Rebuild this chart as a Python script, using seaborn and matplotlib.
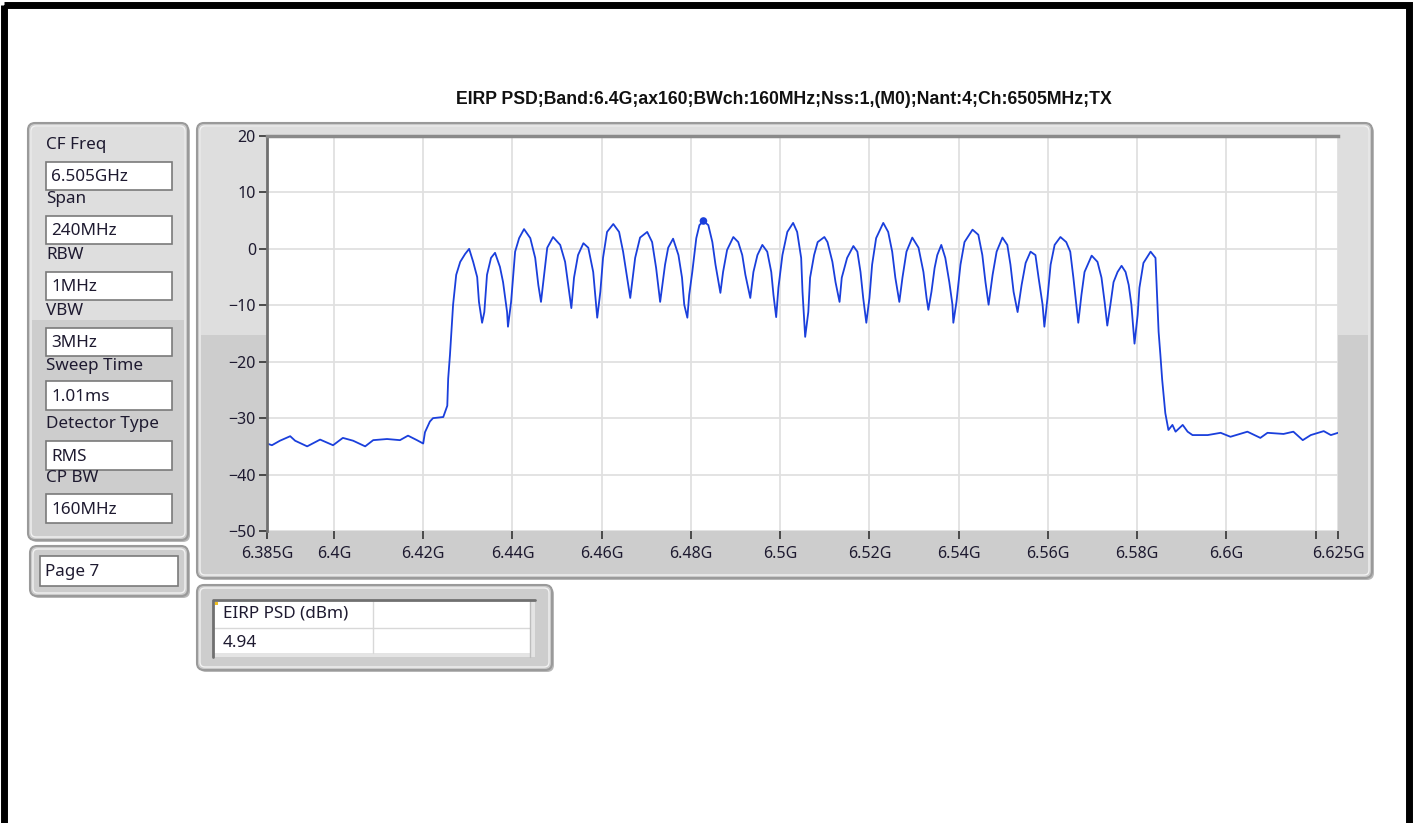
import numpy as np
import pandas as pd
import seaborn as sns
import matplotlib.pyplot as plt
from matplotlib.patches import FancyBboxPatch, Rectangle

W, H = 1415, 823

# ---- trace data, frequency in MHz, level in dBm ----
left_freq = [6385.0, 6386.1, 6387.9, 6390.2, 6391.3, 6394.0, 6396.9, 6399.8, 6402.0,
             6404.3, 6407.0, 6408.8, 6411.9, 6414.8, 6416.6, 6418.6, 6420.0, 6420.4,
             6421.5, 6422.2, 6424.5, 6425.4, 6425.6]
left_level = [-34.5, -34.8, -34.0, -33.2, -34.0, -35.0, -33.8, -34.8, -33.5,
              -34.0, -35.0, -33.9, -33.7, -33.9, -33.1, -33.9, -34.5, -32.5,
              -30.6, -30.0, -29.8, -27.8, -23.0]

band_freq = [6426.0, 6426.7, 6427.4, 6428.3, 6429.4, 6430.3, 6431.2, 6432.1, 6432.5, 6433.2,
             6433.7, 6434.3, 6435.2, 6436.1, 6437.2, 6437.9, 6438.8, 6439.0, 6439.7, 6440.6,
             6441.5, 6442.6, 6444.0, 6445.1, 6445.8, 6446.4, 6447.1, 6447.8, 6449.1, 6450.7,
             6451.8, 6452.5, 6453.2, 6453.8, 6454.7, 6455.9, 6457.0, 6458.1, 6459.0, 6459.7,
             6460.3, 6461.2, 6462.6, 6463.9, 6464.8, 6465.7, 6466.4, 6467.5, 6468.6, 6470.2,
             6471.3, 6472.2, 6473.1, 6474.2, 6474.9, 6476.0, 6477.2, 6478.0, 6478.5, 6479.2,
             6479.6, 6480.3, 6481.2, 6481.9, 6482.8, 6483.9, 6484.8, 6485.5, 6486.6, 6487.2,
             6488.1, 6489.5, 6490.6, 6491.5, 6492.2, 6493.3, 6494.0, 6494.9, 6496.0, 6497.1,
             6498.0, 6498.5, 6499.1, 6499.6, 6500.5, 6501.6, 6502.9, 6503.8, 6504.7, 6505.0,
             6505.6, 6506.3, 6506.7, 6507.6, 6508.4, 6509.9, 6510.6, 6511.7, 6512.4, 6513.3,
             6513.8, 6515.0, 6516.4, 6517.3, 6518.0, 6518.6, 6519.3, 6520.0, 6520.6, 6521.5,
             6523.1, 6524.2, 6525.1, 6525.8, 6526.7, 6527.4, 6528.3, 6529.6, 6531.0, 6532.1,
             6532.8, 6533.2, 6533.9, 6534.6, 6535.2, 6536.1, 6537.0, 6537.9, 6538.6, 6538.8,
             6539.5, 6540.4, 6541.3, 6543.1, 6544.4, 6545.3, 6546.0, 6546.7, 6547.6, 6548.5,
             6549.8, 6550.9, 6551.6, 6552.3, 6553.2, 6554.1, 6555.0, 6556.1, 6557.2, 6557.9,
             6558.8, 6559.2, 6559.9, 6560.6, 6561.5, 6562.8, 6564.1, 6565.0, 6565.7, 6566.8,
             6567.5, 6568.2, 6569.8, 6571.1, 6572.0, 6572.7, 6573.3, 6574.0, 6574.7, 6575.6,
             6576.5, 6577.4, 6578.1, 6578.7, 6579.4, 6580.1, 6580.5, 6581.4, 6583.0, 6584.1]
band_level = [-18.8, -9.9, -4.6, -2.3, -0.9, 0.0, -2.3, -5.0, -9.4, -13.1,
              -11.2, -4.6, -1.6, -0.7, -3.2, -5.9, -11.2, -13.8, -9.4, -0.5,
              1.9, 3.5, 1.9, -1.6, -6.4, -9.4, -4.6, 0.2, 2.1, 0.7,
              -2.3, -6.4, -10.5, -5.1, -1.1, 1.0, 0.2, -4.1, -12.2, -7.6,
              -1.6, 3.0, 4.4, 3.0, -0.5, -5.1, -8.7, -1.6, 2.0, 3.0,
              1.2, -3.4, -9.4, -2.8, 0.2, 1.8, -1.1, -5.1, -9.9, -12.2,
              -8.2, -4.1, 1.9, 4.2, 4.94, 4.2, 1.2, -2.8, -7.8, -4.1,
              -0.2, 2.1, 1.2, -1.1, -4.6, -8.7, -4.1, -1.1, 0.7, -0.5,
              -4.1, -8.2, -12.1, -6.9, -1.1, 3.0, 4.6, 3.0, -1.6, -7.6,
              -15.6, -11.2, -5.1, -1.1, 1.2, 2.1, 1.2, -2.3, -5.9, -9.4,
              -5.1, -1.6, 0.5, -0.5, -4.1, -8.7, -13.1, -8.7, -2.8, 1.9,
              4.6, 3.0, -0.5, -5.1, -9.4, -5.1, -0.5, 2.0, 0.2, -4.1,
              -8.7, -10.8, -7.6, -3.4, -1.1, 0.7, -1.6, -5.9, -9.9, -13.1,
              -9.4, -2.8, 1.2, 3.4, 2.5, -1.1, -5.9, -9.9, -4.6, -0.5,
              2.0, 0.7, -2.8, -7.6, -11.2, -6.4, -2.5, -0.5, -1.1, -5.1,
              -9.9, -13.8, -8.7, -2.8, 0.7, 2.1, 1.2, -0.5, -5.1, -13.1,
              -8.2, -4.1, -1.2, -2.3, -5.1, -9.4, -13.6, -9.9, -5.9, -4.1,
              -3.0, -4.1, -6.4, -9.9, -16.8, -11.7, -6.9, -2.5, -0.5, -1.6]

right_freq = [6584.8, 6585.2, 6585.6, 6586.3, 6587.0, 6587.9, 6588.6, 6590.2, 6591.3,
              6592.4, 6595.8, 6598.7, 6600.9, 6604.7, 6607.6, 6609.2, 6612.8, 6615.0,
              6617.1, 6618.9, 6621.8, 6623.4, 6625.0]
right_level = [-14.7, -18.8, -23.2, -29.1, -32.1, -31.2, -32.4, -31.2, -32.4,
               -33.0, -33.0, -32.6, -33.3, -32.4, -33.5, -32.6, -32.8, -32.4,
               -33.9, -33.0, -32.3, -33.0, -32.6]

marker_freq = 6482.8
marker_level = 4.94

x_tick_ghz = [6.385, 6.4, 6.42, 6.44, 6.46, 6.48, 6.5, 6.52, 6.54, 6.56, 6.58, 6.6, 6.62, 6.625]
x_tick_txt = ['6.385G', '6.4G', '6.42G', '6.44G', '6.46G', '6.48G', '6.5G', '6.52G',
              '6.54G', '6.56G', '6.58G', '6.6G', '', '6.625G']
y_ticks = [20, 10, 0, -10, -20, -30, -40, -50]

settings = [('CF Freq', '6.505GHz'), ('Span', '240MHz'), ('RBW', '1MHz'), ('VBW', '3MHz'),
            ('Sweep Time', '1.01ms'), ('Detector Type', 'RMS'), ('CP BW', '160MHz')]

title = 'EIRP PSD;Band:6.4G;ax160;BWch:160MHz;Nss:1,(M0);Nant:4;Ch:6505MHz;TX'

df = pd.DataFrame({
    'freq': np.array(left_freq + band_freq + right_freq) / 1000.0,
    'level': left_level + band_level + right_level,
})

sns.set_theme(style="white")
plt.rcParams['font.family'] = ['Noto Sans', 'DejaVu Sans']
txt_col = '#1e1a30'
ui_size = 12.3

fig = plt.figure(figsize=(W / 100, H / 100), dpi=100)
bg = fig.add_axes([0, 0, 1, 1])
bg.set_xlim(0, W)
bg.set_ylim(H, 0)
bg.axis('off')


def panel(x0, y0, x1, y1, split=None, top_fc='#dedede', fc='#cdcdcd'):
    bg.add_patch(FancyBboxPatch((x0 + 2, y0 + 2), x1 - x0, y1 - y0,
                                boxstyle="round,pad=0,rounding_size=7",
                                fc='#b8b8b8', ec='none'))
    bg.add_patch(FancyBboxPatch((x0, y0), x1 - x0, y1 - y0,
                                boxstyle="round,pad=0,rounding_size=7",
                                fc=fc, ec='#9a9a9a', lw=1.5))
    if split is not None:
        bg.add_patch(Rectangle((x0 + 4, y0 + 4), x1 - x0 - 8, split - y0 - 4,
                               fc=top_fc, ec='none'))
    bg.add_patch(FancyBboxPatch((x0 + 3, y0 + 3), x1 - x0 - 6, y1 - y0 - 6,
                                boxstyle="round,pad=0,rounding_size=5",
                                fc='none', ec='#f2f2f2', lw=1.0))


def field(x0, y0, x1, y1, text):
    bg.add_patch(Rectangle((x0, y0), x1 - x0, y1 - y0, fc='white', ec='#7a7a7a', lw=1.2))
    bg.text(x0 + 5, (y0 + y1) / 2 + 1, text, fontsize=ui_size, color=txt_col,
            va='center', ha='left')


# black frame of the screenshot
bg.add_patch(Rectangle((3.5, 5), W - 10, H + 20, fill=False, ec='black', lw=5))

# left settings panel
panel(28, 123, 188, 540, split=320)
label_y = [145, 199, 255, 311, 366, 424, 478]
box_y = [(162, 190), (216, 244), (272, 300), (328, 356), (381, 410), (441, 470), (494, 523)]
for (lab, val), ly, (b0, b1) in zip(settings, label_y, box_y):
    bg.text(46, ly, lab, fontsize=ui_size, color=txt_col, va='center', ha='left')
    field(46, b0, 172, b1, val)

# page panel
panel(30, 546, 188, 596)
field(40, 556, 178, 586, 'Page 7')

# graph panel
panel(197, 123, 1372, 578, split=335)

# result table panel
panel(197, 585, 552, 670)
bg.add_patch(Rectangle((213, 600), 322, 57, fc='#e4e4e4', ec='none'))
bg.add_patch(Rectangle((213, 600), 317, 53, fc='white', ec='none'))
bg.plot([213, 530], [628, 628], color='#d8d8d8', lw=1)
bg.plot([373, 373], [600, 653], color='#d8d8d8', lw=1)
bg.plot([530, 530], [600, 657], color='#bdbdbd', lw=1)
bg.plot([213, 213, 535], [657, 600, 600], color='#707070', lw=2)
bg.add_patch(Rectangle((215, 602), 3, 3, fc='#f0c020', ec='none'))
bg.text(223, 614, 'EIRP PSD (dBm)', fontsize=ui_size, color=txt_col, va='center', ha='left')
bg.text(223, 643, f'{marker_level:.2f}', fontsize=ui_size, color=txt_col, va='center', ha='left')

# title
fig.text(784 / W, 1 - 100 / H, title, ha='center', va='center',
         fontsize=12.7, fontweight='bold', family=['Liberation Sans', 'DejaVu Sans'],
         color='#111111')

# spectrum plot
ax = fig.add_axes([267 / W, 1 - 531 / H, (1338 - 267) / W, (531 - 136) / H])
ax.set_facecolor('white')
sns.lineplot(data=df, x='freq', y='level', ax=ax, color='#1a3fdc', lw=1.3,
             estimator=None, sort=False)
sns.scatterplot(x=[marker_freq / 1000.0], y=[marker_level], ax=ax, color='#1a3fdc',
                s=30, edgecolor='none', zorder=5)
ax.set_xlim(6.385, 6.625)
ax.set_ylim(-50, 20)
ax.set_xticks(x_tick_ghz)
ax.set_xticklabels(x_tick_txt)
ax.set_yticks(y_ticks)
ax.grid(True, color='#e0e0e0', lw=1.3)
ax.set_axisbelow(True)
ax.set_xlabel('')
ax.set_ylabel('')
for side in ['right', 'bottom']:
    ax.spines[side].set_visible(False)
ax.spines['left'].set_color('#707070')
ax.spines['left'].set_linewidth(2)
ax.spines['top'].set_color('#8a8a8a')
ax.spines['top'].set_linewidth(2.5)
ax.tick_params(axis='both', direction='out', length=6, width=1.2, color='#333333',
               labelsize=11.5, labelcolor=txt_col)
ax.tick_params(axis='x', bottom=True, pad=5)
ax.tick_params(axis='y', left=True, pad=2)

fig.savefig('out.png', dpi=100)
